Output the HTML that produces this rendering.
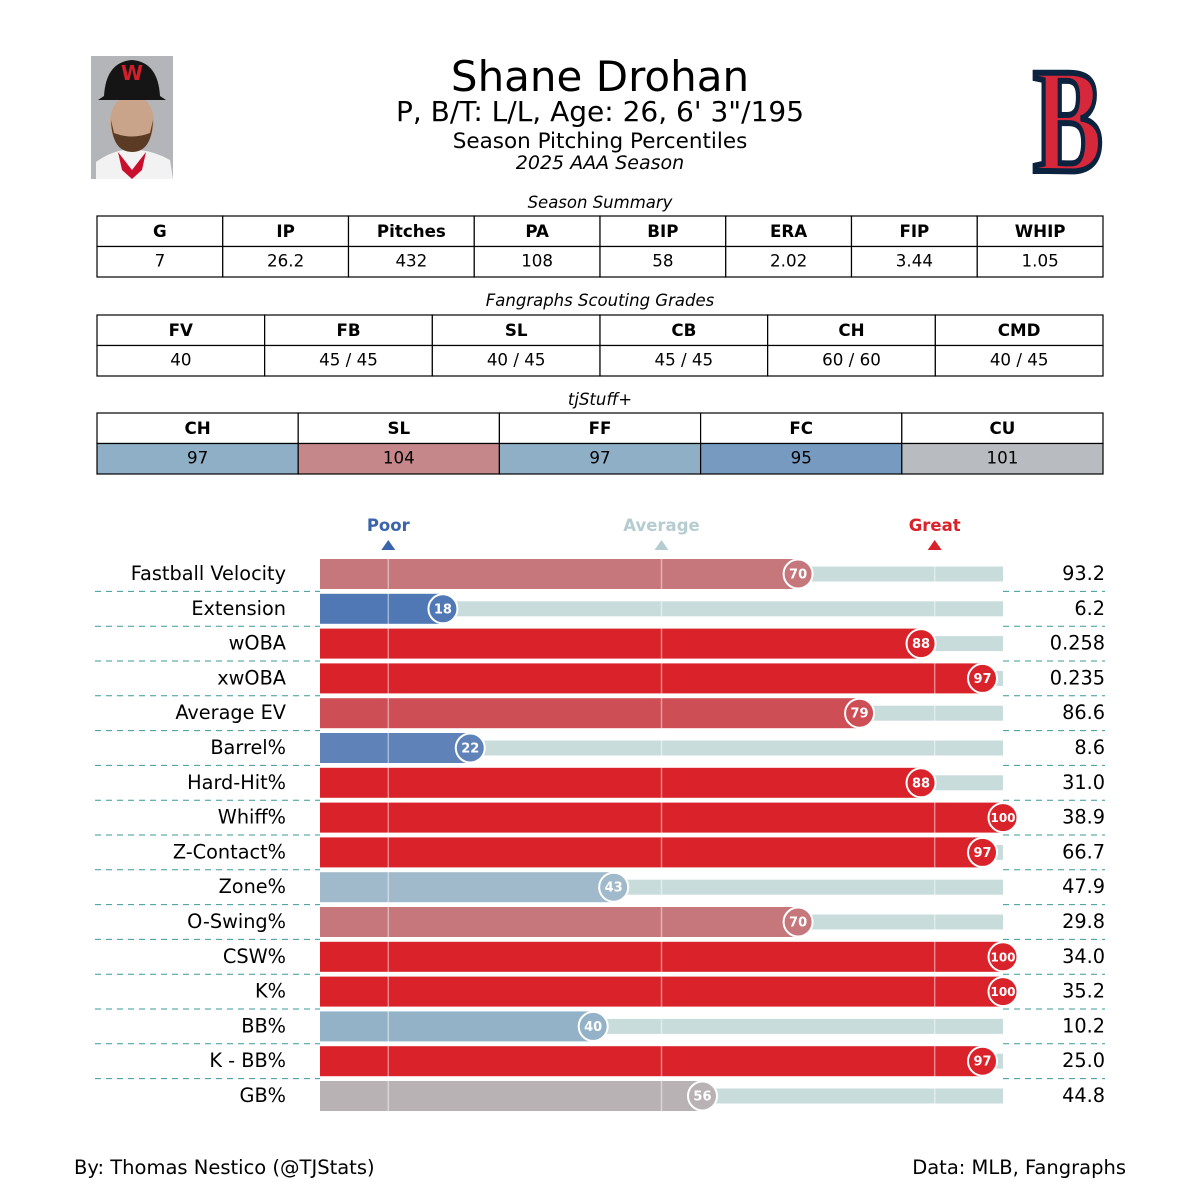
<!DOCTYPE html>
<html><head><meta charset="utf-8">
<style>
body{margin:0;background:#fff;width:1200px;height:1200px;overflow:hidden;font-family:"DejaVu Sans","Liberation Sans",sans-serif;}
svg text{font-family:"DejaVu Sans","Liberation Sans",sans-serif;}
</style></head>
<body>
<svg id="chart" width="1200" height="1200" viewBox="0 0 1200 1200" xmlns="http://www.w3.org/2000/svg">
  <g>
    <rect x="91" y="56" width="82" height="123" fill="#b4b5b8"/>
    <path d="M96 179 L96 162 Q110 152 124 150 L140 150 Q156 152 170 160 L173 179 Z" fill="#f2f2f2"/>
    <path d="M118 152 L132 170 L146 152 L142 170 L132 179 L122 170 Z" fill="#c8102e"/>
    <ellipse cx="132" cy="122" rx="22" ry="28" fill="#c9a48a"/>
    <path d="M111 120 Q112 152 132 152 Q152 152 153 120 L150 133 Q132 140 114 133 Z" fill="#5b3b24"/>
    <path d="M104 96 Q106 62 132 60 Q158 62 160 96 L166 100 L98 100 Z" fill="#151515"/>
    <text x="132" y="80" font-size="20" font-weight="bold" fill="#d21f2c" text-anchor="middle">W</text>
  </g>
  <g transform="translate(1068,0) scale(0.7,1)">
    <text x="0" y="171" font-family="Liberation Serif,serif" font-size="150" font-weight="bold" fill="#d6283a" stroke="#0c2340" stroke-width="6" text-anchor="middle" style="font-family:'Liberation Serif',serif">B</text>
  </g>
  <text x="600" y="91" font-size="42" text-anchor="middle">Shane Drohan</text>
  <text x="600" y="121" font-size="28" text-anchor="middle">P, B/T: L/L, Age: 26, 6' 3"/195</text>
  <text x="600" y="148" font-size="21.5" text-anchor="middle">Season Pitching Percentiles</text>
  <text x="600" y="169" font-size="19" font-style="italic" text-anchor="middle">2025 AAA Season</text>
  <g id="tables"></g>
  <g id="bars"></g>
  <text x="74" y="1174" font-size="19.5">By: Thomas Nestico (@TJStats)</text>
  <text x="1126" y="1174" font-size="19.5" text-anchor="end">Data: MLB, Fangraphs</text>
</svg>
<script>
const metrics=["Fastball Velocity","Extension","wOBA","xwOBA","Average EV","Barrel%","Hard-Hit%","Whiff%","Z-Contact%","Zone%","O-Swing%","CSW%","K%","BB%","K - BB%","GB%"];
const percentiles=[70,18,88,97,79,22,88,100,97,43,70,100,100,40,97,56];
const statValues=["93.2","6.2","0.258","0.235","86.6","8.6","31.0","38.9","66.7","47.9","29.8","34.0","35.2","10.2","25.0","44.8"];
const summaryHeaders=["G","IP","Pitches","PA","BIP","ERA","FIP","WHIP"];
const summaryValues=["7","26.2","432","108","58","2.02","3.44","1.05"];
const gradeHeaders=["FV","FB","SL","CB","CH","CMD"];
const gradeValues=["40","45 / 45","40 / 45","45 / 45","60 / 60","40 / 45"];
const stuffHeaders=["CH","SL","FF","FC","CU"];
const stuffValues=[97,104,97,95,101];
const NS="http://www.w3.org/2000/svg";
function mk(tag,attrs,parent){const e=document.createElementNS(NS,tag);for(const k in attrs)e.setAttribute(k,attrs[k]);parent.appendChild(e);return e;}
function hex(h){return [1,3,5].map(i=>parseInt(h.substr(i,2),16));}
function interp(stops,v){if(v<=stops[0][0])return stops[0][1];for(let i=1;i<stops.length;i++){if(v<=stops[i][0]){const a=stops[i-1],b=stops[i];const t=(v-a[0])/(b[0]-a[0]);const ca=hex(a[1]),cb=hex(b[1]);return "rgb("+ca.map((c,j)=>Math.round(c+(cb[j]-c)*t)).join(",")+")";}}return stops[stops.length-1][1];}
const pctStops=[[0,"#3a64ac"],[18,"#4f78b5"],[22,"#5f82b9"],[40,"#93b2c7"],[43,"#a0bacb"],[50,"#bcc4c8"],[56,"#b8b2b4"],[70,"#c5777b"],[79,"#cd4e55"],[88,"#d9222a"],[100,"#d9222a"]];
const stuffStops=[[90,"#5a83b8"],[95,"#779ac0"],[97,"#8fafc6"],[100,"#b8bcc0"],[101,"#b8bcc0"],[104,"#c5878a"],[110,"#d9222a"]];
const T=document.getElementById('tables');
function table(title,ty,y0,headers,values,colorFn,name){
  const t=mk('text',{x:600,y:ty,'font-size':16.5,'font-style':'italic','text-anchor':'middle'},T);t.textContent=title;
  
  
  const x0=97,x1=1103,w=(x1-x0)/headers.length,h=30.5;
  headers.forEach((hd,i)=>{
    const c=mk('rect',{x:x0+i*w,y:y0,width:w,height:h,fill:'#fff',stroke:'#000','stroke-width':1.2},T);
    
    
    const tx=mk('text',{x:x0+i*w+w/2,y:y0+21,'font-size':16.7,'font-weight':'bold','text-anchor':'middle'},T);tx.textContent=hd;
    
    
    const c2=mk('rect',{x:x0+i*w,y:y0+h,width:w,height:h,fill:colorFn?colorFn(values[i]):'#fff',stroke:'#000','stroke-width':1.2},T);
    
    
    const tv=mk('text',{x:x0+i*w+w/2,y:y0+h+20,'font-size':16.7,'text-anchor':'middle'},T);tv.textContent=values[i];
    
    
  });
}
table("Season Summary",208,216,summaryHeaders,summaryValues,null,'season-summary');
table("Fangraphs Scouting Grades",306,315,gradeHeaders,gradeValues,null,'scouting-grades');
table("tjStuff+",405,413,stuffHeaders,stuffValues,v=>interp(stuffStops,v),'tjstuff');

const B=document.getElementById('bars');
const xL=320,xR=1003;
const xs=v=>xL+(xR-xL)*v/100;
const y0=574,dy=34.8;
const ys=i=>y0+i*dy;
[[10,"Poor","#3a64ac"],[50,"Average","#b5ccd0"],[90,"Great","#d9222a"]].forEach(([v,l,c])=>{
  const t=mk('text',{x:xs(v),y:531,'font-size':16.5,'font-weight':'bold',fill:c,'text-anchor':'middle'},B);t.textContent=l;
  
  
  const p=mk('path',{d:`M${xs(v)-7} 550 L${xs(v)+7} 550 L${xs(v)} 540 Z`,fill:c},B);
  
  
});
metrics.forEach((m,i)=>{
  const y=ys(i);
  if(i>0){
    const yl=y-dy/2;
    const d1=mk('line',{x1:95,x2:320,y1:yl,y2:yl,stroke:'#3a9a9a','stroke-width':1,'stroke-dasharray':'6,5'},B);
    
    
    const d2=mk('line',{x1:1003,x2:1105,y1:yl,y2:yl,stroke:'#3a9a9a','stroke-width':1,'stroke-dasharray':'6,5'},B);
    
    
  }
  const tr=mk('rect',{x:xL,y:y-7.5,width:xR-xL,height:15,fill:'#c8dcdc'},B);
  
  
  const col=interp(pctStops,percentiles[i]);
  const b=mk('rect',{x:xL,y:y-15,width:xs(percentiles[i])-xL,height:30,fill:col},B);
  
  
  const lab=mk('text',{x:286,y:y+6,'font-size':19.3,'text-anchor':'end'},B);lab.textContent=m;
  
  
  const val=mk('text',{x:1105,y:y+6,'font-size':19.3,'text-anchor':'end'},B);val.textContent=statValues[i];
  
  
});
[10,50,90].forEach(v=>{
  const l=mk('line',{x1:xs(v),x2:xs(v),y1:ys(0)-15,y2:ys(metrics.length-1)+15,stroke:'#fff','stroke-opacity':0.45,'stroke-width':1.5},B);
  
  
});
metrics.forEach((m,i)=>{
  const y=ys(i),x=xs(percentiles[i]);
  const c=mk('circle',{cx:x,cy:y,r:14.5,fill:interp(pctStops,percentiles[i]),stroke:'#fff','stroke-width':2},B);
  
  
  const t=mk('text',{x:x,y:y+4.5,'font-size':percentiles[i]>=100?12:13,'font-weight':'bold',fill:'#fff','text-anchor':'middle'},B);t.textContent=percentiles[i];
  
  
});
</script>
</body></html>
